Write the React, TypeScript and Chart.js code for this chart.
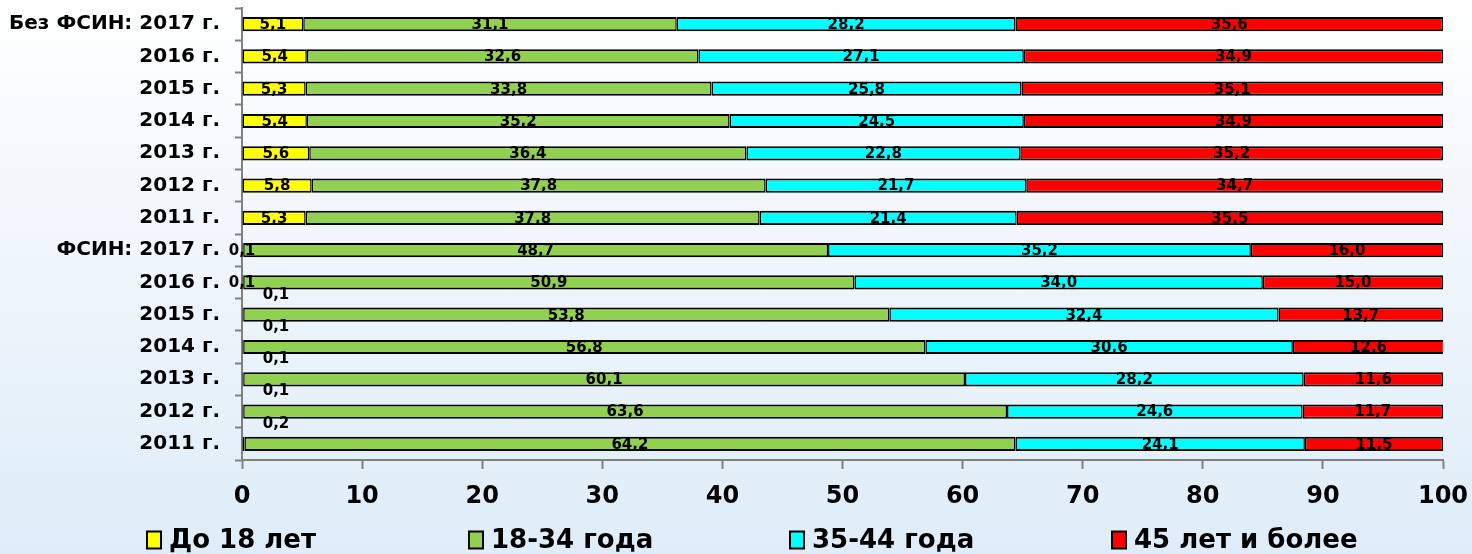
import React, { useEffect, useRef } from 'react';
import { Chart, registerables } from 'chart.js';

Chart.register(...registerables);

const categories = [
  'Без ФСИН: 2017 г.', '2016 г.', '2015 г.', '2014 г.', '2013 г.', '2012 г.', '2011 г.',
  'ФСИН: 2017 г.', '2016 г.', '2015 г.', '2014 г.', '2013 г.', '2012 г.', '2011 г.',
];
const under18 = [5.1, 5.4, 5.3, 5.4, 5.6, 5.8, 5.3, 0.1, 0.1, 0.1, 0.1, 0.1, 0.1, 0.2];
const age18to34 = [31.1, 32.6, 33.8, 35.2, 36.4, 37.8, 37.8, 48.7, 50.9, 53.8, 56.8, 60.1, 63.6, 64.2];
const age35to44 = [28.2, 27.1, 25.8, 24.5, 22.8, 21.7, 21.4, 35.2, 34.0, 32.4, 30.6, 28.2, 24.6, 24.1];
const age45plus = [35.6, 34.9, 35.1, 34.9, 35.2, 34.7, 35.5, 16.0, 15.0, 13.7, 12.6, 11.6, 11.7, 11.5];
const seriesNames = ['До 18 лет', '18-34 года', '35-44 года', '45 лет и более'];
const seriesColors = ['#FFFF00', '#92D050', '#00FFFF', '#FF0000'];
const xMin = 0;
const xMax = 100;
const xStep = 10;

const FONT = '"DejaVu Sans", "Liberation Sans", sans-serif';
const fmt = (v: number) => v.toFixed(1).replace('.', ',');

const segLabels = {
  id: 'segLabels',
  afterDatasetsDraw(chart: any) {
    const ctx = chart.ctx;
    ctx.save();
    ctx.font = `bold 15px ${FONT}`;
    ctx.fillStyle = '#000';
    ctx.textAlign = 'center';
    ctx.textBaseline = 'middle';
    const axisX = chart.scales.x.getPixelForValue(0);
    chart.data.datasets.forEach((ds: any, di: number) => {
      const meta = chart.getDatasetMeta(di);
      meta.data.forEach((bar: any, i: number) => {
        const v = ds.data[i];
        const p = bar.getProps(['x', 'base', 'y'], true);
        let cx = (p.x + p.base) / 2;
        let cy = p.y + 1;
        if (v < 1) {
          if (i >= 9) {
            cx = axisX + 34;
            cy = p.y - 20;
          } else {
            cx = axisX;
          }
        }
        ctx.fillText(fmt(v), cx, cy);
      });
    });
    ctx.restore();
  },
};

const bottomLegend = {
  id: 'bottomLegend',
  afterDraw(chart: any) {
    const ctx = chart.ctx;
    ctx.save();
    ctx.font = `bold 26px ${FONT}`;
    ctx.textBaseline = 'middle';
    ctx.textAlign = 'left';
    const startX = 147;
    const step = 321.7;
    const cy = 540;
    chart.data.datasets.forEach((ds: any, i: number) => {
      const bx = Math.round(startX + i * step);
      ctx.fillStyle = ds.backgroundColor;
      ctx.fillRect(bx, cy - 8.5, 14, 17);
      ctx.lineWidth = 2;
      ctx.strokeStyle = '#000';
      ctx.strokeRect(bx, cy - 8.5, 14, 17);
      ctx.fillStyle = '#000';
      ctx.fillText(ds.label, bx + 22, cy + 1);
    });
    ctx.restore();
  },
};

export default function App() {
  const ref = useRef<HTMLCanvasElement | null>(null);

  useEffect(() => {
    document.body.style.margin = '0';
    if (!ref.current) return;
    const series = [under18, age18to34, age35to44, age45plus];
    const chart = new Chart(ref.current, {
      type: 'bar',
      data: {
        labels: categories,
        datasets: series.map((d, i) => ({
          label: seriesNames[i],
          data: d,
          backgroundColor: seriesColors[i],
          borderColor: '#000',
          borderWidth: { top: 2, bottom: 2, left: 1.5, right: 1.5 },
          borderSkipped: false,
          categoryPercentage: 0.44,
          barPercentage: 1,
        })),
      },
      options: {
        indexAxis: 'y',
        responsive: false,
        animation: false,
        layout: { padding: { top: 8, right: 29, left: 0, bottom: 0 } },
        plugins: { legend: { display: false }, tooltip: { enabled: false } },
        scales: {
          x: {
            stacked: true,
            min: xMin,
            max: xMax,
            ticks: {
              stepSize: xStep,
              color: '#000',
              font: { family: FONT, size: 24, weight: 'bold' },
              padding: 13,
              maxRotation: 0,
            },
            grid: {
              drawOnChartArea: false,
              drawTicks: true,
              tickLength: 9,
              tickColor: '#808080',
              tickWidth: 2,
            },
            border: { color: '#808080', width: 2 },
            afterFit: (s: any) => {
              s.height = 94;
              s.paddingLeft = 0;
              s.paddingRight = 0;
            },
          },
          y: {
            stacked: true,
            ticks: {
              color: '#000',
              font: { family: FONT, size: 20, weight: 'bold' },
              padding: 15,
              autoSkip: false,
            },
            grid: {
              offset: true,
              drawOnChartArea: false,
              drawTicks: true,
              tickLength: 7,
              tickColor: '#808080',
              tickWidth: 2,
            },
            border: { color: '#808080', width: 2 },
            afterFit: (s: any) => {
              s.width = 242;
              s.paddingTop = 0;
              s.paddingBottom = 0;
            },
          },
        },
      } as any,
      plugins: [segLabels, bottomLegend],
    });
    return () => chart.destroy();
  }, []);

  return (
    <div
      style={{
        width: 1472,
        height: 554,
        background: 'linear-gradient(to bottom, #ffffff 0%, #eef5fb 50%, #deedf9 100%)',
      }}
    >
      <canvas ref={ref} width={1472} height={554} style={{ display: 'block' }} />
    </div>
  );
}
